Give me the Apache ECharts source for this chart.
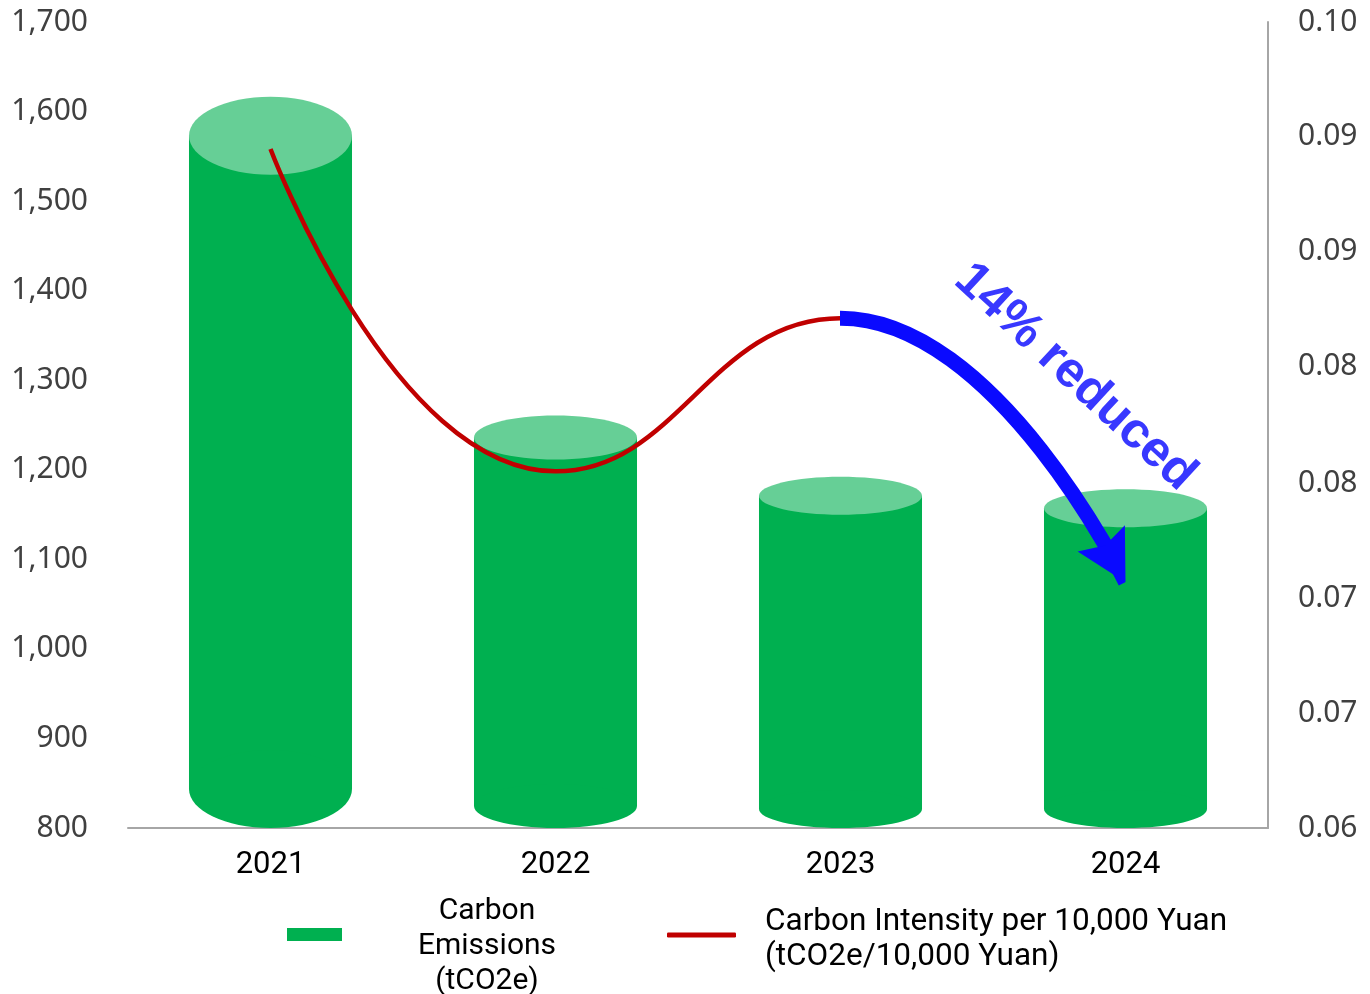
<!DOCTYPE html>
<html>
<head>
<meta charset="utf-8">
<script src="https://cdn.jsdelivr.net/npm/echarts@6/dist/echarts.min.js"></script>
<style>
  html, body { margin: 0; padding: 0; background: #fff; }
  #chart { width: 1370px; height: 994px; }
</style>
</head>
<body>
<div id="chart"></div>
<script>
// data
const years = ['2021', '2022', '2023', '2024'];
const emissions = [1573, 1236, 1171, 1157];           // tCO2e
const intensity = [0.0937, 0.0777, 0.0853, 0.0722];   // tCO2e / 10,000 Yuan
const leftTicks = [800, 900, 1000, 1100, 1200, 1300, 1400, 1500, 1600, 1700];
const rightTicks = [0.06, 0.0657, 0.0714, 0.0771, 0.0829, 0.0886, 0.0943, 0.10];

// cylinder looks
const bodyColor = '#00B050';
const capColor = '#66CF96';
const capRy = [39, 22, 19, 19];
const redColor = '#C00000';
const blueColor = '#0A0AFF';
const arrowHead = 'path://M50,0 L100,100 L50,84 L0,100 Z';

const chart = echarts.init(document.getElementById('chart'));

function renderCylinder(params, api) {
  const i = api.value(0);
  const top = api.coord([i, api.value(1)]);
  const base = api.coord([i, leftTicks[0]]);
  const w = api.size([1, 0])[0] * 0.572;
  const rx = w / 2;
  const ry = capRy[params.dataIndex];
  return {
    type: 'group',
    children: [
      {
        type: 'rect',
        shape: { x: top[0] - rx, y: top[1], width: w, height: base[1] - ry - top[1] },
        style: { fill: bodyColor }
      },
      {
        type: 'ellipse',
        shape: { cx: top[0], cy: base[1] - ry, rx: rx, ry: ry },
        style: { fill: bodyColor }
      },
      {
        type: 'ellipse',
        shape: { cx: top[0], cy: top[1], rx: rx, ry: ry },
        style: { fill: capColor }
      }
    ]
  };
}

const option = {
  backgroundColor: '#fff',
  animation: false,
  grid: {
    left: 128,
    right: 102,
    top: 22,
    bottom: 166,
    outerBoundsMode: 'none'
  },
  legend: [
    {
      data: [{ name: 'Carbon Emissions (tCO2e)', icon: 'rect' }],
      left: 287,
      top: 870,
      padding: 0,
      itemWidth: 55,
      itemHeight: 13,
      formatter: () => '{s|}\n{a|Carbon}\n{a|Emissions}\n{a|(tCO2e)}',
      textStyle: {
        rich: {
          s: { lineHeight: 24, height: 24, width: 280 },
          a: { width: 280, align: 'center', fontSize: 30, lineHeight: 35, color: '#000', fontFamily: 'Roboto' }
        }
      }
    },
    {
      data: [{ name: 'Carbon Intensity per 10,000 Yuan (tCO2e/10,000 Yuan)', icon: 'roundRect', itemStyle: { color: redColor } }],
      left: 667,
      top: 894,
      padding: 0,
      itemWidth: 69,
      itemHeight: 5,
      formatter: () => '{s|}\n{b|Carbon Intensity per 10,000 Yuan}\n{b|(tCO2e/10,000 Yuan)}',
      textStyle: {
        rich: {
          s: { lineHeight: 9, height: 9 },
          b: { fontSize: 31.5, lineHeight: 35, color: '#000', fontFamily: 'Roboto', padding: [0, 0, 0, 24] }
        }
      }
    }
  ],
  // red curve stops at 2023, the blue part takes over from there
  visualMap: [
    {
      type: 'piecewise',
      show: false,
      seriesIndex: 1,
      dimension: 0,
      pieces: [
        { gte: -1, lte: 2, color: redColor },
        { gt: 2, lte: 4, color: 'rgba(192,0,0,0)' }
      ]
    },
    {
      type: 'piecewise',
      show: false,
      seriesIndex: 2,
      dimension: 0,
      pieces: [
        { gte: -1, lt: 1.99, color: 'rgba(10,10,255,0)' },
        { gte: 1.99, lte: 2.88, color: blueColor },
        { gt: 2.88, lte: 4, color: 'rgba(10,10,255,0)' }
      ]
    }
  ],
  xAxis: {
    type: 'category',
    data: years,
    boundaryGap: true,
    axisTick: { show: false },
    axisLine: { lineStyle: { color: '#A6A6A6', width: 2 } },
    axisLabel: { color: '#000', fontSize: 31, fontFamily: 'Roboto', margin: 22 }
  },
  yAxis: [
    {
      type: 'value',
      min: 800,
      max: 1700,
      interval: 100,
      axisLine: { show: false },
      axisTick: { show: false },
      splitLine: { show: false },
      axisLabel: {
        color: '#404040',
        fontSize: 30,
        fontFamily: 'Noto Sans',
        margin: 40,
        formatter: (v) => v.toLocaleString('en-US')
      }
    },
    {
      type: 'value',
      position: 'right',
      min: 0.06,
      max: 0.10,
      axisLine: { show: true, lineStyle: { color: '#A6A6A6', width: 2 } },
      axisTick: { show: false },
      splitLine: { show: false },
      axisLabel: {
        customValues: rightTicks,
        color: '#404040',
        fontSize: 30,
        fontFamily: 'Noto Sans',
        margin: 30,
        formatter: (v) => v.toFixed(2)
      }
    }
  ],
  series: [
    {
      name: 'Carbon Emissions (tCO2e)',
      type: 'custom',
      renderItem: renderCylinder,
      itemStyle: { color: bodyColor },
      encode: { x: 0, y: 1 },
      data: emissions.map((v, i) => [i, v]),
      z: 2
    },
    {
      name: 'Carbon Intensity per 10,000 Yuan (tCO2e/10,000 Yuan)',
      type: 'line',
      yAxisIndex: 1,
      smooth: true,
      showSymbol: false,
      itemStyle: { color: redColor },
      lineStyle: { width: 4.5 },
      data: intensity,
      z: 3
    },
    {
      name: 'reduction',
      type: 'line',
      yAxisIndex: 1,
      smooth: true,
      showSymbol: false,
      silent: true,
      itemStyle: { color: blueColor },
      lineStyle: { width: 15 },
      data: intensity,
      z: 4
    }
  ]
};

chart.setOption(option);

// arrow head + "14% reduced" note, oriented from the smoothed curve
const px = (i) => chart.convertToPixel({ xAxisIndex: 0, yAxisIndex: 1 }, [years[i], intensity[i]]);
const p1 = px(1), p2 = px(2), p3 = px(3);
const lPrev = Math.hypot(p2[0] - p1[0], p2[1] - p1[1]);
const lNext = Math.hypot(p3[0] - p2[0], p3[1] - p2[1]);
const k = 0.5 * lNext / (lPrev + lNext);
const cp = [p2[0] + k * (p3[0] - p1[0]), p2[1] + k * (p3[1] - p1[1])];
const tx = p3[0] - cp[0], ty = p3[1] - cp[1];
const tl = Math.hypot(tx, ty);
const headLen = 50;
const headRot = -90 - Math.atan2(ty, tx) * 180 / Math.PI;

const dx = p3[0] - p2[0];
const dy = p3[1] - p2[1];
const len = Math.hypot(dx, dy);
const nx = dy / len;
const ny = -dx / len;

chart.setOption({
  series: [
    {}, {},
    {
      markPoint: {
        silent: true,
        symbol: arrowHead,
        symbolSize: [54, headLen],
        symbolRotate: headRot,
        symbolOffset: [-tx / tl * headLen / 2, -ty / tl * headLen / 2],
        itemStyle: { color: blueColor },
        label: { show: false },
        data: [{ coord: [years[3], intensity[3]] }]
      }
    }
  ],
  graphic: [
    {
      type: 'text',
      x: (p2[0] + p3[0]) / 2 + nx * 116 + (dx / len) * 18,
      y: (p2[1] + p3[1]) / 2 + ny * 116 + (dy / len) * 18,
      rotation: -Math.atan2(dy, dx),
      style: {
        text: '14% reduced',
        fill: '#3838FF',
        font: 'bold 50px "Liberation Sans", Arial, sans-serif',
        align: 'center',
        verticalAlign: 'middle'
      },
      z: 10
    }
  ]
});
</script>
</body>
</html>
